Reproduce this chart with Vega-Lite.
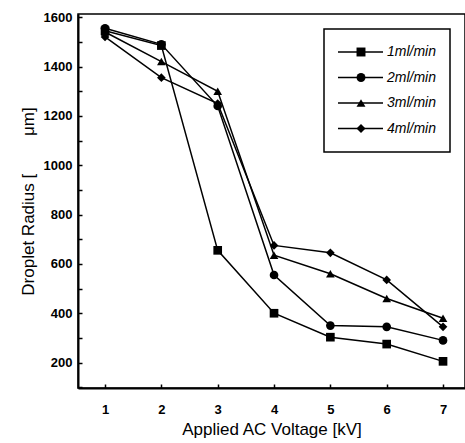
{
  "$schema": "https://vega.github.io/schema/vega-lite/v6.json",
  "autosize": "none",
  "padding": {"left": 78, "top": 14, "right": 0, "bottom": 55},
  "width": 387,
  "height": 374,
  "background": "white",
  "config": {
    "view": {"stroke": "black", "strokeWidth": 1.5},
    "font": "Liberation Sans",
    "axis": {"grid": false, "domainColor": "black", "domainWidth": 2, "tickColor": "black", "tickWidth": 1.5, "labelColor": "black", "titleColor": "black", "labelFont": "Liberation Sans", "labelFontWeight": "bold", "labelFontSize": 13, "titleFont": "Liberation Sans", "titleFontWeight": "normal", "titleFontSize": 17}
  },
  "data": {"values": [
    {"v": 1, "r": 1545, "s": "1ml/min"},
    {"v": 2, "r": 1485, "s": "1ml/min"},
    {"v": 3, "r": 655, "s": "1ml/min"},
    {"v": 4, "r": 400, "s": "1ml/min"},
    {"v": 5, "r": 303, "s": "1ml/min"},
    {"v": 6, "r": 275, "s": "1ml/min"},
    {"v": 7, "r": 205, "s": "1ml/min"},
    {"v": 1, "r": 1555, "s": "2ml/min"},
    {"v": 2, "r": 1490, "s": "2ml/min"},
    {"v": 3, "r": 1240, "s": "2ml/min"},
    {"v": 4, "r": 555, "s": "2ml/min"},
    {"v": 5, "r": 350, "s": "2ml/min"},
    {"v": 6, "r": 345, "s": "2ml/min"},
    {"v": 7, "r": 290, "s": "2ml/min"},
    {"v": 1, "r": 1540, "s": "3ml/min"},
    {"v": 2, "r": 1420, "s": "3ml/min"},
    {"v": 3, "r": 1300, "s": "3ml/min"},
    {"v": 4, "r": 635, "s": "3ml/min"},
    {"v": 5, "r": 560, "s": "3ml/min"},
    {"v": 6, "r": 460, "s": "3ml/min"},
    {"v": 7, "r": 380, "s": "3ml/min"},
    {"v": 1, "r": 1520, "s": "4ml/min"},
    {"v": 2, "r": 1355, "s": "4ml/min"},
    {"v": 3, "r": 1250, "s": "4ml/min"},
    {"v": 4, "r": 675, "s": "4ml/min"},
    {"v": 5, "r": 645, "s": "4ml/min"},
    {"v": 6, "r": 535, "s": "4ml/min"},
    {"v": 7, "r": 345, "s": "4ml/min"}
  ]},
  "encoding": {
    "x": {"field": "v", "type": "quantitative", "scale": {"domain": [0.52, 7.39], "nice": false, "zero": false},
      "axis": {"values": [1, 1.5, 2, 2.5, 3, 3.5, 4, 4.5, 5, 5.5, 6, 6.5, 7], "format": "d", "labelExpr": "datum.value % 1 === 0 ? datum.label : ''", "tickSize": -4, "labelPadding": 19, "title": "Applied AC Voltage [kV]", "titlePadding": 5}},
    "y": {"field": "r", "type": "quantitative", "scale": {"domain": [97, 1613], "nice": false, "zero": false},
      "axis": {"values": [100, 200, 300, 400, 500, 600, 700, 800, 900, 1000, 1100, 1200, 1300, 1400, 1500, 1600], "labelExpr": "datum.value % 200 === 0 ? datum.label : ''", "format": "d", "tickSize": -4, "labelPadding": 10, "title": "Droplet Radius [\u00a0\u00a0\u00a0\u00a0\u00a0\u00a0\u00a0\u00a0μm]", "titlePadding": 6}}
  },
  "layer": [
    {
      "mark": {"type": "line", "strokeWidth": 1.5},
      "encoding": {
        "color": {"field": "s", "type": "nominal",
          "scale": {"range": ["black", "black", "black", "black"]},
          "legend": {
            "title": null, "orient": "top-right", "offset": 15,
            "strokeColor": "black", "padding": 13, "rowPadding": 5.5, "clipHeight": 20,
            "symbolType": "stroke", "symbolSize": 2025, "symbolStrokeWidth": 1.5, "symbolStrokeColor": "black",
            "labelFont": "Liberation Sans", "labelFontSize": 14, "labelFontStyle": "italic", "labelColor": "black", "labelOffset": 3,
            "encode": {"legend": {"update": {"strokeWidth": {"value": 1.5}}}}
          }}
      }
    },
    {
      "mark": {"type": "point", "filled": true, "color": "black", "opacity": 1, "size": 75},
      "encoding": {
        "shape": {"field": "s", "type": "nominal",
          "scale": {"range": ["square", "circle", "triangle-up", "diamond"]},
          "legend": {
            "title": null, "orient": "none", "legendX": 276, "legendY": 28,
            "padding": 0, "rowPadding": 5.5, "clipHeight": 20,
            "symbolSize": 80, "symbolFillColor": "black", "symbolStrokeColor": "black", "symbolStrokeWidth": 1, "symbolOpacity": 1,
            "labelExpr": "''", "labelFontSize": 14, "labelOffset": 0
          }}
      }
    }
  ]
}
